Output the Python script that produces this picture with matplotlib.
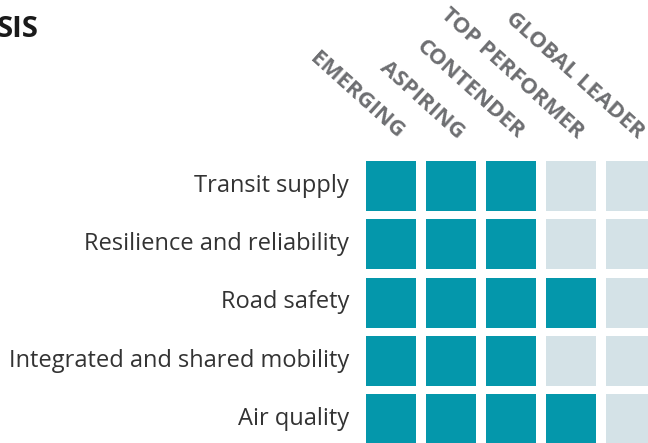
import matplotlib
matplotlib.use("Agg")
import matplotlib.pyplot as plt
import numpy as np

plt.rcParams["font.family"] = ["Open Sans", "DejaVu Sans"]

# levels, left to right
levels = ["EMERGING", "ASPIRING", "CONTENDER", "TOP PERFORMER", "GLOBAL LEADER"]
# indicators, top to bottom
indicators = ["Transit supply", "Resilience and reliability", "Road safety",
              "Integrated and shared mobility", "Air quality"]
# number of levels reached per indicator
reached = [3, 3, 4, 3, 4]

ON = "#0497ab"
OFF = "#d4e2e7"

W, H = 648, 443
fig = plt.figure(figsize=(W / 100, H / 100), dpi=100)

# axes laid out in pixels: columns every 60 px, rows every ~58 px
col0, col_pitch = 391, 60
row0, row_pitch = 186, 58.25
ax = fig.add_axes([(col0 - col_pitch / 2) / W,
                   (H - (row0 + 4.5 * row_pitch)) / H,
                   5 * col_pitch / W,
                   5 * row_pitch / H])
ax.set_xlim(-0.5, 4.5)
ax.set_ylim(4.5, -0.5)
ax.axis("off")

sq_w = 50 / col_pitch
sq_h = 50 / row_pitch
for r, n in enumerate(reached):
    colors = [ON if c < n else OFF for c in range(len(levels))]
    ax.bar(np.arange(len(levels)), sq_h, width=sq_w, bottom=r - sq_h / 2,
           color=colors, linewidth=0)
    ax.text(-0.7, r, indicators[r], ha="right", va="center",
            fontsize=17, color="#333333")

for c, lab in enumerate(levels):
    ax.text(c + 0.1, -0.8, lab, rotation=-42, rotation_mode="anchor",
            ha="right", va="baseline", fontsize=16, fontweight="bold",
            color="#6d6e71", clip_on=False)

fig.text(38 / W, 1 - 37 / H, "SIS", ha="right", va="baseline",
         fontsize=21, fontweight="bold", color="#1a1a1a")

fig.savefig("out.png", dpi=100)
